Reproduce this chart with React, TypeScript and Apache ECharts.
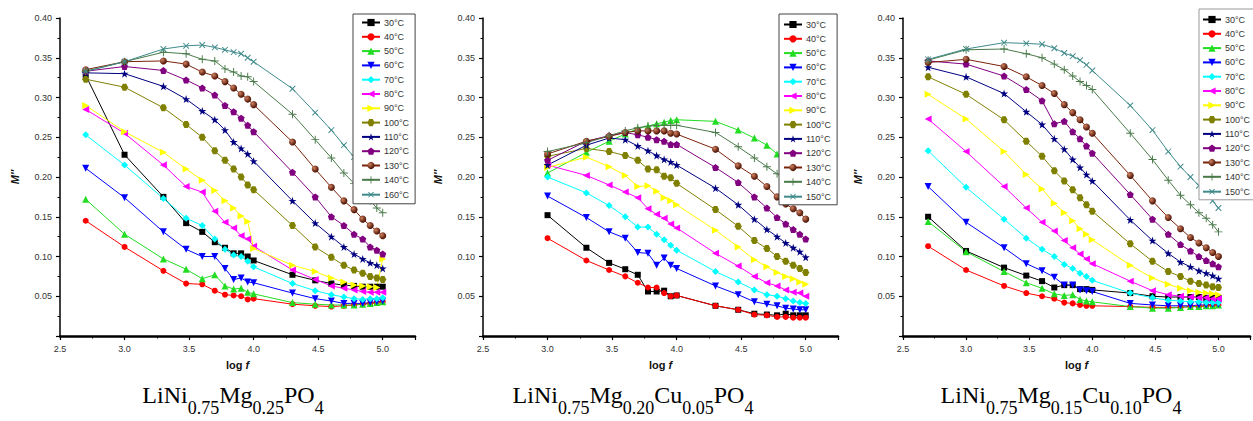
import React, { useEffect, useRef } from "react";
import * as echarts from "echarts";

// log f grid (500 Hz ... 100 kHz)
const logF = [2.699, 3.0, 3.301, 3.477, 3.602, 3.699, 3.778, 3.845, 3.903, 3.954, 4.0, 4.301, 4.477, 4.602, 4.699, 4.778, 4.845, 4.903, 4.954, 5.0];
// panel 2 starts at 1 kHz
const logFB = [3.0, 3.301, 3.477, 3.602, 3.699, 3.778, 3.845, 3.903, 3.954, 4.0, 4.301, 4.477, 4.602, 4.699, 4.778, 4.845, 4.903, 4.954, 5.0];

const tempsA = ["30°C", "40°C", "50°C", "60°C", "70°C", "80°C", "90°C", "100°C", "110°C", "120°C", "130°C", "140°C", "160°C"];
const tempsB = ["30°C", "40°C", "50°C", "60°C", "70°C", "80°C", "90°C", "100°C", "110°C", "120°C", "130°C", "140°C", "150°C"];

// Panel 1: LiNi0.75Mg0.25PO4
const m1_30 = [0.328, 0.228, 0.175, 0.142, 0.131, 0.118, 0.111, 0.104, 0.104, 0.100, 0.095, 0.077, 0.070, 0.066, 0.064, 0.063, 0.062, 0.062, 0.062, 0.062];
const m1_40 = [0.145, 0.112, 0.082, 0.066, 0.065, 0.057, 0.052, 0.051, 0.050, 0.046, 0.047, 0.040, 0.038, 0.037, 0.038, 0.039, 0.040, 0.041, 0.042, 0.043];
const m1_50 = [0.172, 0.128, 0.097, 0.084, 0.072, 0.077, 0.063, 0.059, 0.060, 0.055, 0.053, 0.042, 0.040, 0.039, 0.039, 0.039, 0.040, 0.041, 0.042, 0.043];
const m1_60 = [0.211, 0.174, 0.131, 0.109, 0.100, 0.100, 0.085, 0.071, 0.073, 0.068, 0.067, 0.054, 0.047, 0.044, 0.041, 0.041, 0.041, 0.042, 0.043, 0.044];
const m1_70 = [0.253, 0.215, 0.173, 0.148, 0.139, 0.122, 0.109, 0.102, 0.100, 0.094, 0.087, 0.066, 0.057, 0.052, 0.049, 0.047, 0.046, 0.047, 0.047, 0.048];
const m1_80 = [0.285, 0.255, 0.215, 0.188, 0.181, 0.157, 0.143, 0.136, 0.126, 0.122, 0.113, 0.083, 0.071, 0.063, 0.060, 0.058, 0.056, 0.055, 0.055, 0.055];
const m1_90 = [0.290, 0.257, 0.231, 0.210, 0.196, 0.183, 0.170, 0.161, 0.151, 0.144, 0.110, 0.089, 0.081, 0.073, 0.068, 0.064, 0.063, 0.062, 0.061, 0.097];
const m1_100 = [0.323, 0.313, 0.287, 0.266, 0.250, 0.233, 0.221, 0.210, 0.200, 0.190, 0.184, 0.139, 0.112, 0.099, 0.089, 0.083, 0.079, 0.075, 0.073, 0.071];
const m1_110 = [0.331, 0.330, 0.314, 0.298, 0.283, 0.272, 0.259, 0.244, 0.236, 0.229, 0.220, 0.170, 0.142, 0.125, 0.112, 0.103, 0.097, 0.092, 0.089, 0.085];
const m1_120 = [0.333, 0.339, 0.334, 0.322, 0.312, 0.303, 0.290, 0.282, 0.274, 0.265, 0.257, 0.206, 0.175, 0.150, 0.139, 0.128, 0.122, 0.112, 0.108, 0.103];
const m1_130 = [0.335, 0.345, 0.346, 0.342, 0.332, 0.327, 0.320, 0.312, 0.304, 0.298, 0.291, 0.244, 0.210, 0.187, 0.170, 0.159, 0.147, 0.139, 0.132, 0.126];
const m1_140 = [0.333, 0.345, 0.357, 0.355, 0.348, 0.346, 0.336, 0.332, 0.327, 0.326, 0.320, 0.279, 0.247, 0.224, 0.205, 0.192, 0.181, 0.170, 0.161, 0.155];
const m1_160 = [0.333, 0.345, 0.361, 0.365, 0.366, 0.363, 0.360, 0.357, 0.355, 0.350, 0.345, 0.311, 0.281, 0.259, 0.240, 0.225, 0.212, 0.200, 0.191, 0.185];

// Panel 2: LiNi0.75Mg0.20Cu0.05PO4
const m2_30 = [0.152, 0.111, 0.092, 0.084, 0.077, 0.056, 0.056, 0.057, 0.050, 0.051, 0.038, 0.033, 0.028, 0.027, 0.026, 0.028, 0.026, 0.026, 0.026];
const m2_40 = [0.123, 0.095, 0.083, 0.075, 0.067, 0.061, 0.061, 0.054, 0.050, 0.051, 0.038, 0.033, 0.027, 0.026, 0.024, 0.024, 0.023, 0.023, 0.023];
const m2_50 = [0.205, 0.231, 0.245, 0.254, 0.261, 0.264, 0.267, 0.269, 0.271, 0.272, 0.270, 0.259, 0.249, 0.240, 0.229, 0.219, 0.210, 0.203, 0.196];
const m2_60 = [0.176, 0.149, 0.131, 0.123, 0.105, 0.104, 0.089, 0.098, 0.089, 0.085, 0.063, 0.052, 0.043, 0.040, 0.038, 0.035, 0.034, 0.033, 0.033];
const m2_70 = [0.200, 0.180, 0.164, 0.150, 0.137, 0.137, 0.128, 0.121, 0.114, 0.108, 0.081, 0.068, 0.058, 0.052, 0.050, 0.047, 0.044, 0.042, 0.041];
const m2_80 = [0.215, 0.202, 0.190, 0.181, 0.174, 0.160, 0.153, 0.148, 0.141, 0.136, 0.104, 0.088, 0.075, 0.067, 0.063, 0.058, 0.055, 0.054, 0.050];
const m2_90 = [0.212, 0.225, 0.213, 0.202, 0.188, 0.189, 0.182, 0.174, 0.170, 0.165, 0.133, 0.112, 0.096, 0.087, 0.080, 0.075, 0.072, 0.068, 0.065];
const m2_100 = [0.226, 0.236, 0.232, 0.227, 0.221, 0.210, 0.209, 0.201, 0.199, 0.192, 0.159, 0.138, 0.120, 0.110, 0.100, 0.094, 0.089, 0.085, 0.080];
const m2_110 = [0.215, 0.240, 0.249, 0.247, 0.239, 0.233, 0.227, 0.222, 0.219, 0.215, 0.186, 0.165, 0.147, 0.134, 0.125, 0.117, 0.111, 0.106, 0.099];
const m2_120 = [0.221, 0.245, 0.252, 0.256, 0.253, 0.250, 0.247, 0.245, 0.241, 0.241, 0.212, 0.193, 0.175, 0.161, 0.149, 0.141, 0.134, 0.128, 0.122];
const m2_130 = [0.229, 0.245, 0.251, 0.256, 0.258, 0.258, 0.258, 0.258, 0.255, 0.254, 0.235, 0.214, 0.201, 0.188, 0.175, 0.166, 0.160, 0.155, 0.147];
const m2_140 = [0.232, 0.243, 0.252, 0.258, 0.262, 0.264, 0.265, 0.265, 0.265, 0.265, 0.256, 0.238, 0.224, 0.213, 0.204, 0.196, 0.189, 0.183, 0.177];
const m2_150: number[] = [];

// Panel 3: LiNi0.75Mg0.15Cu0.10PO4
const m3_30 = [0.150, 0.107, 0.086, 0.076, 0.069, 0.061, 0.064, 0.064, 0.059, 0.059, 0.058, 0.054, 0.050, 0.049, 0.049, 0.049, 0.049, 0.048, 0.048, 0.048];
const m3_40 = [0.113, 0.083, 0.063, 0.054, 0.050, 0.047, 0.042, 0.041, 0.039, 0.038, 0.038, 0.037, 0.036, 0.036, 0.036, 0.037, 0.037, 0.038, 0.038, 0.039];
const m3_50 = [0.144, 0.106, 0.081, 0.067, 0.060, 0.053, 0.051, 0.052, 0.046, 0.044, 0.043, 0.037, 0.035, 0.035, 0.036, 0.037, 0.037, 0.038, 0.038, 0.039];
const m3_60 = [0.188, 0.143, 0.111, 0.091, 0.082, 0.074, 0.064, 0.064, 0.058, 0.057, 0.056, 0.041, 0.039, 0.038, 0.038, 0.038, 0.039, 0.039, 0.040, 0.040];
const m3_70 = [0.233, 0.187, 0.147, 0.123, 0.109, 0.100, 0.090, 0.085, 0.079, 0.075, 0.070, 0.054, 0.048, 0.045, 0.044, 0.043, 0.043, 0.042, 0.042, 0.042];
const m3_80 = [0.273, 0.232, 0.188, 0.161, 0.143, 0.132, 0.120, 0.111, 0.103, 0.097, 0.091, 0.069, 0.057, 0.052, 0.050, 0.049, 0.048, 0.048, 0.047, 0.047];
const m3_90 = [0.304, 0.273, 0.232, 0.203, 0.185, 0.167, 0.155, 0.145, 0.135, 0.128, 0.121, 0.089, 0.073, 0.065, 0.060, 0.057, 0.055, 0.054, 0.053, 0.052];
const m3_100 = [0.326, 0.304, 0.272, 0.245, 0.226, 0.208, 0.195, 0.184, 0.174, 0.165, 0.157, 0.116, 0.094, 0.081, 0.075, 0.069, 0.066, 0.064, 0.062, 0.061];
const m3_110 = [0.338, 0.326, 0.305, 0.282, 0.266, 0.248, 0.235, 0.222, 0.212, 0.203, 0.195, 0.146, 0.120, 0.104, 0.093, 0.087, 0.082, 0.079, 0.076, 0.072];
const m3_120 = [0.346, 0.342, 0.327, 0.310, 0.296, 0.267, 0.270, 0.257, 0.248, 0.239, 0.230, 0.178, 0.147, 0.128, 0.115, 0.107, 0.100, 0.095, 0.091, 0.087];
const m3_130 = [0.344, 0.348, 0.339, 0.326, 0.315, 0.305, 0.291, 0.281, 0.272, 0.263, 0.255, 0.202, 0.170, 0.149, 0.135, 0.124, 0.117, 0.111, 0.105, 0.100];
const m3_140 = [0.347, 0.360, 0.361, 0.355, 0.350, 0.342, 0.335, 0.327, 0.320, 0.315, 0.310, 0.255, 0.222, 0.196, 0.177, 0.165, 0.155, 0.148, 0.140, 0.131];
const m3_150 = [0.348, 0.361, 0.369, 0.368, 0.367, 0.362, 0.356, 0.352, 0.347, 0.341, 0.334, 0.290, 0.259, 0.232, 0.213, 0.200, 0.189, 0.179, 0.170, 0.161];

const panel1 = [m1_30, m1_40, m1_50, m1_60, m1_70, m1_80, m1_90, m1_100, m1_110, m1_120, m1_130, m1_140, m1_160];
const panel2 = [m2_30, m2_40, m2_50, m2_60, m2_70, m2_80, m2_90, m2_100, m2_110, m2_120, m2_130, m2_140, m2_150];
const panel3 = [m3_30, m3_40, m3_50, m3_60, m3_70, m3_80, m3_90, m3_100, m3_110, m3_120, m3_130, m3_140, m3_150];

const titles = [
  "{a|LiNi}{s|0.75}{a|Mg}{s|0.25}{a|PO}{s|4}",
  "{a|LiNi}{s|0.75}{a|Mg}{s|0.20}{a|Cu}{s|0.05}{a|PO}{s|4}",
  "{a|LiNi}{s|0.75}{a|Mg}{s|0.15}{a|Cu}{s|0.10}{a|PO}{s|4}",
];

// styles
const STAR = "path://M50,0 L61.2,34.5 L97.6,34.5 L68.2,55.9 L79.4,90.5 L50,69.1 L20.6,90.5 L31.8,55.9 L2.4,34.5 L38.8,34.5 Z";
const PENTA = "path://M50,0 L97.6,34.5 L79.4,90.5 L20.6,90.5 L2.4,34.5 Z";
const HEXA = "path://M25,4 L75,4 L100,50 L75,96 L25,96 L0,50 Z";
const PLUS = "path://M44,0 L56,0 L56,44 L100,44 L100,56 L56,56 L56,100 L44,100 L44,56 L0,56 L0,44 L44,44 Z";
const colors = ["#000000", "#ff0000", "#22dd22", "#0000ff", "#00ffff", "#ff00ff", "#ffff00", "#808000", "#000080", "#800080", "#7a2208", "#4a7a4a", "#3f8a8a"];
const symbols = ["rect", "circle", "triangle", "triangle", "diamond", "triangle", "triangle", HEXA, STAR, PENTA, "circle", PLUS, PLUS];
const rotations = [0, 0, 0, 180, 0, 90, -90, 0, 0, 0, 0, 0, 45];
const sizes = [6, 6, 7, 7, 7, 7, 7, 7, 8, 7, 7, 8, 8];

const gridLeft = [60, 483, 903];
const titleX = [233, 633, 1061];
const legendPos = [
  { left: 353, top: 14, padding: [4, 6, 4, 8] },
  { left: 779, top: 14, padding: [6, 6, 3, 4] },
  { left: 1199, top: 9, padding: [6, 6, 3, 3] },
];

export default function App() {
  const ref = useRef<HTMLDivElement>(null);
  useEffect(() => {
    if (!ref.current) return;
    const chart = echarts.init(ref.current, undefined, { renderer: "svg" });
    const panels = [panel1, panel2, panel3];
    const xsets = [logF, logFB, logF];
    const names = [tempsA, tempsB, tempsB];

    const grids = gridLeft.map((l) => ({ left: l, top: 18, width: 355, height: 318 }));
    const xAxes = gridLeft.map((_, i) => ({
      gridIndex: i,
      type: "value",
      min: 2.5,
      max: 5.25,
      interval: 0.5,
      splitLine: { show: false },
      axisLine: { show: true, onZero: false, lineStyle: { color: "#000", width: 2.5 } },
      axisTick: { show: true, length: 4, lineStyle: { color: "#000", width: 1.2 } },
      minorTick: { show: true, splitNumber: 2, length: 2.5, lineStyle: { color: "#000", width: 1 } },
      axisLabel: {
        fontSize: 9,
        fontFamily: "Liberation Sans",
        color: "#333",
        margin: 8,
        formatter: (v: number) => (Math.abs(v * 2 - Math.round(v * 2)) < 1e-6 ? v.toFixed(1) : ""),
      },
      name: "{n|log }{i|f}",
      nameLocation: "middle",
      nameGap: 23,
      nameTextStyle: {
        rich: {
          n: { fontFamily: "Liberation Sans", fontSize: 11, fontWeight: "bold", color: "#111" },
          i: { fontFamily: "Liberation Sans", fontSize: 11, fontWeight: "bold", fontStyle: "italic", color: "#111" },
        },
      },
    }));
    const yAxes = gridLeft.map((_, i) => ({
      gridIndex: i,
      type: "value",
      min: 0,
      max: 0.4,
      interval: 0.05,
      splitLine: { show: false },
      axisLine: { show: true, lineStyle: { color: "#000", width: 1.5 } },
      axisTick: { show: true, length: 4, lineStyle: { color: "#000", width: 1.2 } },
      minorTick: { show: true, splitNumber: 2, length: 2.5, lineStyle: { color: "#000", width: 1 } },
      axisLabel: {
        fontSize: 9,
        fontFamily: "Liberation Sans",
        color: "#333",
        margin: 8,
        formatter: (v: number) => (v < 1e-9 ? "" : v.toFixed(2)),
      },
      name: "M″",
      nameLocation: "middle",
      nameGap: 40,
      nameTextStyle: { fontFamily: "Liberation Sans", fontSize: 11, fontWeight: "bold", fontStyle: "italic", color: "#111" },
    }));

    const series: any[] = [];
    panels.forEach((vals, p) => {
      vals.forEach((arr, k) => {
        const xs = xsets[p];
        const c = colors[k];
        const itemStyle: any =
          k === 10
            ? {
                color: new echarts.graphic.RadialGradient(0.35, 0.35, 0.65, [
                  { offset: 0, color: "#d08060" },
                  { offset: 1, color: "#4a1000" },
                ]),
              }
            : { color: c };
        series.push({
          type: "line",
          name: names[p][k],
          xAxisIndex: p,
          yAxisIndex: p,
          data: arr.map((v, j) => [xs[j], v]),
          symbol: symbols[k],
          symbolSize: sizes[k],
          symbolRotate: rotations[k],
          showAllSymbol: true,
          lineStyle: { color: c, width: 1 },
          itemStyle,
          emphasis: { disabled: true },
        });
      });
    });

    const legends = legendPos.map((lp, p) => ({
      data: names[p],
      orient: "vertical",
      left: lp.left,
      top: lp.top,
      padding: lp.padding,
      itemWidth: 18,
      itemHeight: 9,
      itemGap: 5.3,
      selectedMode: false,
      backgroundColor: "#fff",
      borderColor: p === 2 ? "#999" : "#444",
      borderWidth: 1,
      borderRadius: 0,
      textStyle: { fontSize: 9, fontFamily: "Liberation Sans", color: "#333", padding: [0, 0, 0, -1] },
      z: 10,
    }));

    const graphic = titles.map((t, i) => ({
      type: "text",
      x: titleX[i],
      y: 383,
      z: 100,
      style: {
        text: t,
        align: "center",
        verticalAlign: "top",
        rich: {
          a: { fontFamily: "Liberation Serif", fontSize: 24, fill: "#000" },
          s: { fontFamily: "Liberation Serif", fontSize: 18, fill: "#000", lineHeight: 18, padding: [25, 0, 0, 0] },
        },
      },
    }));

    chart.setOption({
      animation: false,
      backgroundColor: "#fff",
      grid: grids,
      xAxis: xAxes,
      yAxis: yAxes,
      legend: legends,
      series,
      graphic,
    });
    return () => chart.dispose();
  }, []);
  return <div ref={ref} style={{ position: "absolute", left: 0, top: 0, width: 1253, height: 421, background: "#fff" }} />;
}
